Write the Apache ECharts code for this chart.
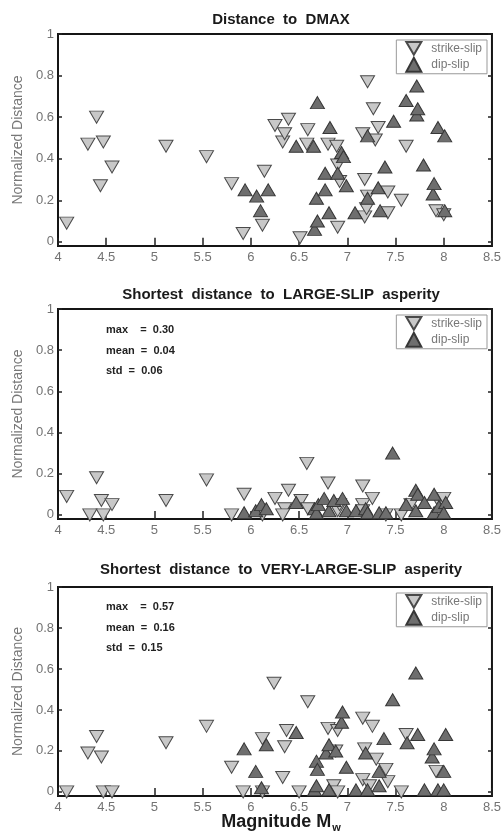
<!DOCTYPE html>
<html>
<head>
<meta charset="utf-8">
<script src="https://cdn.jsdelivr.net/npm/echarts@6/dist/echarts.min.js"></script>
<style>
  html, body { margin: 0; padding: 0; background: #fff; }
  #chart { width: 504px; height: 831px; }
</style>
</head>
<body>
<div id="chart"></div>
<script>
// tick values
const distTicks = [0, 0.2, 0.4, 0.6, 0.8, 1]
const seriesNames = ['strike-slip', 'dip-slip']

const panelTitles = [
  'Distance  to  DMAX',
  'Shortest  distance  to  LARGE-SLIP  asperity',
  'Shortest  distance  to  VERY-LARGE-SLIP  asperity'
]

// [magnitude, normalized distance]
const dmaxStrike = [
  [4.09, 0.09], [4.31, 0.47], [4.40, 0.60], [4.44, 0.27], [4.47, 0.48], [4.56, 0.36],
  [5.12, 0.46], [5.54, 0.41], [5.80, 0.28], [5.92, 0.04], [6.12, 0.08], [6.14, 0.34],
  [6.25, 0.56], [6.33, 0.48], [6.35, 0.52], [6.39, 0.59], [6.51, 0.02], [6.58, 0.47],
  [6.59, 0.54], [6.80, 0.47], [6.89, 0.46], [6.90, 0.37], [6.90, 0.07], [6.92, 0.29],
  [7.16, 0.52], [7.18, 0.30], [7.21, 0.77], [7.18, 0.12], [7.21, 0.22], [7.20, 0.16],
  [7.27, 0.64], [7.29, 0.49], [7.32, 0.55], [7.42, 0.14], [7.42, 0.24], [7.56, 0.20],
  [7.61, 0.46], [7.92, 0.15], [8.00, 0.13]
]
const dmaxDip = [
  [5.94, 0.25], [6.06, 0.22], [6.10, 0.15], [6.18, 0.25], [6.47, 0.46], [6.65, 0.46],
  [6.66, 0.06], [6.68, 0.21], [6.69, 0.67], [6.69, 0.10], [6.77, 0.33], [6.77, 0.25],
  [6.81, 0.14], [6.82, 0.55], [6.90, 0.33], [6.94, 0.43], [6.96, 0.41], [6.99, 0.27],
  [7.08, 0.14], [7.21, 0.21], [7.21, 0.51], [7.32, 0.26], [7.34, 0.15], [7.39, 0.36],
  [7.48, 0.58], [7.61, 0.68], [7.72, 0.61], [7.73, 0.64], [7.72, 0.75], [7.79, 0.37],
  [7.89, 0.23], [7.90, 0.28], [7.94, 0.55], [8.01, 0.51], [8.01, 0.15]
]

const largeStrike = [
  [4.09, 0.09], [4.33, 0.00], [4.40, 0.18], [4.45, 0.07], [4.47, 0.00], [4.56, 0.05],
  [5.12, 0.07], [5.54, 0.17], [5.80, 0.00], [5.93, 0.10], [6.12, 0.00], [6.25, 0.08],
  [6.35, 0.03], [6.33, 0.00], [6.39, 0.12], [6.52, 0.07], [6.58, 0.25], [6.59, 0.03],
  [6.80, 0.155], [6.90, 0.02], [6.92, 0.05], [7.16, 0.05], [7.16, 0.02], [7.16, 0.14],
  [7.26, 0.08], [7.40, 0.00], [7.56, 0.00], [7.66, 0.05], [7.94, 0.07], [8.00, 0.08]
]
const largeDip = [
  [5.93, 0.01], [6.05, 0.02], [6.11, 0.05], [6.16, 0.03], [6.47, 0.06], [6.66, 0.03],
  [6.68, 0.01], [6.70, 0.05], [6.76, 0.08], [6.81, 0.02], [6.86, 0.07], [6.95, 0.08],
  [6.99, 0.02], [7.09, 0.02], [7.19, 0.03], [7.21, 0.01], [7.33, 0.01], [7.40, 0.01],
  [7.47, 0.30], [7.61, 0.05], [7.71, 0.12], [7.73, 0.10], [7.71, 0.02], [7.80, 0.06],
  [7.90, 0.10], [7.90, 0.01], [7.95, 0.04], [8.02, 0.06], [8.00, 0.01]
]

const veryStrike = [
  [4.09, 0.00], [4.31, 0.19], [4.40, 0.27], [4.45, 0.17], [4.47, 0.00], [4.56, 0.00],
  [5.12, 0.24], [5.54, 0.32], [5.80, 0.12], [5.92, 0.00], [6.12, 0.26], [6.12, 0.00],
  [6.24, 0.53], [6.33, 0.07], [6.35, 0.22], [6.37, 0.30], [6.50, 0.00], [6.59, 0.44],
  [6.80, 0.31], [6.86, 0.03], [6.88, 0.20], [6.90, 0.30], [6.90, 0.00], [7.16, 0.36],
  [7.16, 0.06], [7.18, 0.21], [7.23, 0.03], [7.26, 0.32], [7.30, 0.16], [7.40, 0.11],
  [7.42, 0.05], [7.56, 0.00], [7.61, 0.28], [7.92, 0.10]
]
const veryDip = [
  [5.93, 0.21], [6.05, 0.10], [6.11, 0.02], [6.16, 0.23], [6.47, 0.29], [6.66, 0.01],
  [6.68, 0.15], [6.68, 0.03], [6.69, 0.11], [6.78, 0.19], [6.81, 0.23], [6.81, 0.01],
  [6.88, 0.20], [6.94, 0.34], [6.95, 0.39], [6.99, 0.12], [7.09, 0.01], [7.19, 0.19],
  [7.21, 0.01], [7.33, 0.10], [7.33, 0.03], [7.38, 0.26], [7.47, 0.45], [7.62, 0.24],
  [7.71, 0.58], [7.73, 0.28], [7.80, 0.01], [7.88, 0.17], [7.90, 0.21], [7.94, 0.01],
  [8.00, 0.10], [8.00, 0.01], [8.02, 0.28]
]

const largeStats = ['0.30', '0.04', '0.06']
const veryStats = ['0.57', '0.16', '0.15']

const panelData = [
  [dmaxStrike, dmaxDip],
  [largeStrike, largeDip],
  [veryStrike, veryDip]
]

// layout
const panels = [
  { top: 34, height: 212, titleY: 20 },
  { top: 309, height: 210, titleY: 295 },
  { top: 587, height: 209, titleY: 570 }
]
const FONT = 'Liberation Sans, Arial, sans-serif'
const downTri = 'path://M0,0L20,0L10,17Z'

const chart = echarts.init(document.getElementById('chart'))

const grid = []
const xAxis = []
const yAxis = []
const series = []
const legend = []
const graphic = []

panels.forEach((p, i) => {
  grid.push({
    left: 58,
    right: 12,
    top: p.top,
    height: p.height,
    show: true,
    borderColor: '#151515',
    borderWidth: 2,
    backgroundColor: '#fff'
  })

  const tick = { show: true, inside: true, length: 4, lineStyle: { color: '#222', width: 1.5 } }

  xAxis.push({
    gridIndex: i,
    type: 'value',
    min: 4,
    max: 8.5,
    interval: 0.5,
    axisLine: { show: false },
    axisTick: tick,
    splitLine: { show: false },
    axisLabel: { color: '#737373', fontSize: 13, fontFamily: FONT, margin: 5 }
  })
  xAxis.push({
    gridIndex: i,
    type: 'value',
    position: 'top',
    min: 4,
    max: 8.5,
    interval: 0.5,
    axisLine: { show: false },
    axisTick: tick,
    splitLine: { show: false },
    axisLabel: { show: false }
  })

  yAxis.push({
    gridIndex: i,
    type: 'value',
    min: -0.02,
    max: 1,
    name: 'Normalized Distance',
    nameLocation: 'middle',
    nameGap: 30,
    nameTextStyle: { color: '#777', fontSize: 14, fontFamily: FONT },
    axisLine: { show: false },
    axisTick: Object.assign({ customValues: distTicks }, tick),
    splitLine: { show: false },
    axisLabel: {
      customValues: distTicks,
      color: '#737373',
      fontSize: 13,
      fontFamily: FONT,
      margin: 4,
      formatter: (v) => String(v)
    }
  })
  yAxis.push({
    gridIndex: i,
    type: 'value',
    position: 'right',
    min: -0.02,
    max: 1,
    axisLine: { show: false },
    axisTick: Object.assign({ customValues: distTicks }, tick),
    splitLine: { show: false },
    axisLabel: { show: false }
  })

  series.push({
    name: seriesNames[0],
    type: 'scatter',
    xAxisIndex: i * 2,
    yAxisIndex: i * 2,
    data: panelData[i][0],
    symbol: downTri,
    symbolSize: [14, 12],
    itemStyle: { color: '#c8c8c8', borderColor: '#4a4a4a', borderWidth: 1, opacity: 1 }
  })
  series.push({
    name: seriesNames[1],
    type: 'scatter',
    xAxisIndex: i * 2,
    yAxisIndex: i * 2,
    data: panelData[i][1],
    symbol: 'triangle',
    symbolSize: [14, 12],
    itemStyle: { color: '#6e6e6e', borderColor: '#363636', borderWidth: 1, opacity: 1 }
  })

  legend.push({
    data: seriesNames,
    orient: 'vertical',
    right: 17,
    top: p.top + 6,
    itemGap: 1,
    itemWidth: 15,
    itemHeight: 14,
    padding: [1, 5, 1, 9],
    borderColor: '#999',
    borderWidth: 1,
    backgroundColor: '#fff',
    selectedMode: false,
    textStyle: { color: '#777', fontSize: 12, fontFamily: FONT, padding: [0, 0, 0, 5] }
  })

  graphic.push({
    type: 'text',
    x: 281,
    y: p.titleY,
    style: {
      text: panelTitles[i],
      fill: '#1a1a1a',
      font: 'bold 15px ' + FONT,
      align: 'center',
      verticalAlign: 'middle'
    }
  })
})

// stats text in panels 2 and 3
const statLabels = ['max    =  ', 'mean  =  ', 'std  =  ']
;[[largeStats, 330], [veryStats, 607]].forEach(([vals, y0]) => {
  vals.forEach((v, k) => {
    graphic.push({
      type: 'text',
      x: 106,
      y: y0 + k * 20.5,
      style: {
        text: statLabels[k] + v,
        fill: '#222',
        font: 'bold 11px ' + FONT,
        verticalAlign: 'middle'
      }
    })
  })
})

// x-axis label with subscript
graphic.push({
  type: 'text',
  x: 281,
  y: 822,
  style: {
    text: '{a|Magnitude M}{b|w}',
    align: 'center',
    verticalAlign: 'middle',
    rich: {
      a: { font: 'bold 18px ' + FONT, fill: '#1a1a1a', lineHeight: 22, verticalAlign: 'middle' },
      b: { font: 'bold 11px ' + FONT, fill: '#1a1a1a', lineHeight: 22, verticalAlign: 'bottom', padding: [12, 0, 0, 1] }
    }
  }
})

chart.setOption({
  backgroundColor: '#fff',
  animation: false,
  grid,
  xAxis,
  yAxis,
  series,
  legend,
  graphic
})
</script>
</body>
</html>
